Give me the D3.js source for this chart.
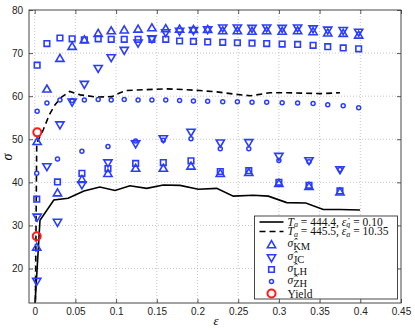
<!DOCTYPE html>
<html>
<head>
<meta charset="utf-8">
<script src="https://cdn.jsdelivr.net/npm/d3@7"></script>
<style>
  body { margin: 0; background: #fff; overflow: hidden; }
  svg { display: block; }
  .tick text { font-family: "Liberation Sans", Arial, sans-serif; font-size: 10px; fill: #222; }
  .legend text { font-family: "Liberation Serif", "DejaVu Serif", serif; font-size: 11.5px; fill: #111; }
</style>
</head>
<body>
<div id="chart"></div>
<script>
// strain columns of the two marker groups
const upperStrain = [0.003, 0.015, 0.031, 0.046, 0.061, 0.078, 0.094, 0.110, 0.127, 0.144, 0.161, 0.178,
  0.195, 0.2125, 0.231, 0.249, 0.267, 0.285, 0.304, 0.323, 0.342, 0.360, 0.379, 0.398];
const upperKM = [49.4, 61.6, 68.7, 71.5, 73.0, 74.5, 75.1, 75.3, 75.5, 75.8, 75.6, 75.5,
  75.4, 75.4, 75.1, 75.1, 75.0, 75.1, 75.0, 75.1, 74.9, 74.6, 74.5, 74.1];
const upperJC = [32.0, 43.7, 53.4, 58.7, 62.8, 66.5, 69.0, 70.7, 72.4, 73.4, 74.8, 75.1,
  75.3, 75.5, 75.9, 75.9, 75.8, 75.9, 75.8, 75.9, 75.7, 75.4, 75.3, 74.9];
const upperLH = [67.2, 72.2, 73.5, 73.3, 73.1, 73.3, 73.2, 73.2, 73.2, 73.2, 73.2, 72.8,
  72.7, 72.6, 72.5, 72.4, 72.3, 72.2, 72.1, 72.0, 71.8, 71.5, 71.2, 71.0];
const upperZH = [56.5, 58.4, 59.1, 59.0, 59.1, 59.2, 59.1, 59.2, 59.1, 59.1, 59.1, 59.0,
  58.9, 58.8, 58.7, 58.7, 58.6, 58.6, 58.5, 58.4, 58.3, 58.0, 57.8, 57.3];

const lowerStrain = [0.0025, 0.028, 0.058, 0.090, 0.124, 0.158, 0.192, 0.228, 0.263, 0.300, 0.337, 0.375];
const lowerKM = [24.9, 37.5, 40.6, 42.0, 43.2, 43.2, 43.7, 42.0, 42.2, 39.7, 39.0, 37.7];
const lowerJC = [17.1, 30.8, 39.5, 44.6, 49.0, 50.2, 51.7, 49.2, 49.3, 46.1, 45.1, 43.0];
const lowerLH = [36.1, 40.1, 42.1, 43.2, 44.4, 44.6, 45.0, 42.5, 42.7, 40.0, 39.3, 38.0];
const lowerZH = [42.1, 45.4, 47.2, 48.3, 49.6, 49.8, 50.1, 47.8, 47.8, 45.1, 44.8, 43.0];

const yieldStrain = [0.0032, 0.0025];
const yieldStress = [51.6, 27.5];

// T_a = 444.4, rate 0.10
const solidStrain = [0, 0.0065, 0.0235, 0.041, 0.0605, 0.080, 0.0987, 0.117, 0.1376, 0.158, 0.1785,
  0.201, 0.2236, 0.244, 0.2686, 0.287, 0.3096, 0.333, 0.3545, 0.375, 0.3996];
const solidStress = [10.5, 31.2, 35.9, 36.3, 38.0, 38.9, 38.1, 39.2, 38.6, 39.4, 39.3,
  38.4, 38.6, 36.8, 37.0, 36.8, 35.3, 35.2, 33.7, 33.7, 33.6];

// T_a = 445.5, rate 10.35
const dashedStrain = [0.0008, 0.0025, 0.0105, 0.018, 0.025, 0.033, 0.043, 0.056, 0.076, 0.095, 0.105,
  0.113, 0.134, 0.162, 0.187, 0.203, 0.224, 0.244, 0.265, 0.289, 0.310, 0.330, 0.352, 0.375];
const dashedStress = [10, 49.1, 52.2, 55.7, 58.0, 59.8, 61.1, 60.3, 59.8, 59.9, 60.8,
  61.3, 61.5, 61.7, 61.5, 61.3, 61.0, 60.5, 60.1, 60.8, 60.8, 60.7, 60.6, 60.8];

const xTicks = [0, 0.05, 0.1, 0.15, 0.2, 0.25, 0.3, 0.35, 0.4, 0.45];
const yTicks = [20, 30, 40, 50, 60, 70, 80];

const width = 415;
const height = 330;
const margin = { top: 10, right: 14, bottom: 27, left: 29 };
const innerWidth = width - margin.left - margin.right;
const innerHeight = height - margin.top - margin.bottom;

const blue = '#2a3cff';

const xScale = d3.scaleLinear().domain([-0.007, 0.45]).range([0, innerWidth]);
const yScale = d3.scaleLinear().domain([12, 80]).range([innerHeight, 0]);

const svg = d3.select('#chart').append('svg')
  .attr('width', width)
  .attr('height', height);

svg.append('defs').append('clipPath').attr('id', 'clip')
  .append('rect').attr('width', innerWidth).attr('height', innerHeight);

const inner = svg.append('g')
  .attr('transform', `translate(${margin.left}, ${margin.top})`);

// grid
inner.append('g').selectAll('line').data(xTicks.slice(0, -1)).enter().append('line')
  .attr('x1', d => xScale(d)).attr('x2', d => xScale(d))
  .attr('y1', 0).attr('y2', innerHeight)
  .attr('stroke', '#b8b8b8').attr('stroke-width', 0.8).attr('stroke-dasharray', '1,2');
inner.append('g').selectAll('line').data(yTicks.slice(0, -1)).enter().append('line')
  .attr('y1', d => yScale(d)).attr('y2', d => yScale(d))
  .attr('x1', 0).attr('x2', innerWidth)
  .attr('stroke', '#b8b8b8').attr('stroke-width', 0.8).attr('stroke-dasharray', '1,2');

const plot = inner.append('g').attr('clip-path', 'url(#clip)');

const line = d3.line().x(d => xScale(d[0])).y(d => yScale(d[1]));

plot.append('path')
  .datum(d3.zip(solidStrain, solidStress))
  .attr('d', line)
  .attr('fill', 'none').attr('stroke', '#000').attr('stroke-width', 1.6);

plot.append('path')
  .datum(d3.zip(dashedStrain, dashedStress))
  .attr('d', line)
  .attr('fill', 'none').attr('stroke', '#000').attr('stroke-width', 1.6)
  .attr('stroke-dasharray', '6,4');

// marker shapes
const markerPath = {
  up: 'M0,-4.3L4.1,2.7L-4.1,2.7Z',
  down: 'M0,4.3L4.1,-2.7L-4.1,-2.7Z',
  square: 'M-2.8,-2.8H2.8V2.8H-2.8Z',
};

const drawMarks = (xs, ys, kind) => {
  const pts = d3.zip(xs, ys);
  const g = plot.append('g');
  if (kind === 'circle') {
    g.selectAll('circle').data(pts).enter().append('circle')
      .attr('cx', d => xScale(d[0])).attr('cy', d => yScale(d[1])).attr('r', 2)
      .attr('fill', 'none').attr('stroke', blue).attr('stroke-width', 1.5);
  } else {
    g.selectAll('path').data(pts).enter().append('path')
      .attr('transform', d => `translate(${xScale(d[0])}, ${yScale(d[1])})`)
      .attr('d', markerPath[kind])
      .attr('fill', 'none').attr('stroke', blue).attr('stroke-width', 1.6);
  }
};

drawMarks(upperStrain, upperKM, 'up');
drawMarks(lowerStrain, lowerKM, 'up');
drawMarks(upperStrain, upperJC, 'down');
drawMarks(lowerStrain, lowerJC, 'down');
drawMarks(upperStrain, upperLH, 'square');
drawMarks(lowerStrain, lowerLH, 'square');
drawMarks(upperStrain, upperZH, 'circle');
drawMarks(lowerStrain, lowerZH, 'circle');

plot.append('g').selectAll('circle').data(d3.zip(yieldStrain, yieldStress)).enter().append('circle')
  .attr('cx', d => xScale(d[0])).attr('cy', d => yScale(d[1])).attr('r', 4)
  .attr('fill', 'none').attr('stroke', '#ff1a1a').attr('stroke-width', 2);

// axes, ticks inward on all sides
const xAxis = d3.axisBottom(xScale).tickValues(xTicks).tickSize(-4).tickPadding(5).tickFormat(d3.format('~g'));
const yAxis = d3.axisLeft(yScale).tickValues(yTicks).tickSize(-4).tickPadding(6);

inner.append('g').attr('transform', `translate(0, ${innerHeight})`).call(xAxis);
inner.append('g').call(yAxis);
inner.append('g').call(d3.axisTop(xScale).tickValues(xTicks).tickSize(-4).tickFormat(''));
inner.append('g').attr('transform', `translate(${innerWidth}, 0)`)
  .call(d3.axisRight(yScale).tickValues(yTicks).tickSize(-4).tickFormat(''));

inner.selectAll('.domain').remove();
inner.selectAll('.tick line').attr('stroke', '#333').attr('stroke-width', 0.8);

inner.append('rect')
  .attr('width', innerWidth).attr('height', innerHeight)
  .attr('fill', 'none').attr('stroke', '#333').attr('stroke-width', 0.9);

// axis labels
svg.append('text')
  .attr('transform', 'translate(12, 157) rotate(-90)')
  .attr('text-anchor', 'middle')
  .attr('font-family', 'Liberation Serif, serif').attr('font-style', 'italic').attr('font-size', 14)
  .text('σ');
svg.append('text')
  .attr('x', 216).attr('y', 325)
  .attr('text-anchor', 'middle')
  .attr('font-family', 'Liberation Serif, serif').attr('font-style', 'italic').attr('font-size', 13)
  .text('ε');

// legend
const legend = svg.append('g').attr('class', 'legend').attr('transform', 'translate(254.5, 216)');
legend.append('rect')
  .attr('width', 143).attr('height', 83)
  .attr('fill', '#fff').attr('stroke', '#333').attr('stroke-width', 0.9);

const rowY = [6, 15.5, 29, 41.5, 53.5, 65.5, 77.5];

const lineRow = (y, dashed, base, rate) => {
  legend.append('line')
    .attr('x1', 5).attr('x2', 29).attr('y1', y).attr('y2', y)
    .attr('stroke', '#000').attr('stroke-width', 1.6)
    .attr('stroke-dasharray', dashed ? '6,4' : null);
  const t = legend.append('text').attr('x', 33).attr('y', y + 3.5);
  t.append('tspan').attr('font-style', 'italic').text('T');
  t.append('tspan').attr('font-style', 'italic').attr('font-size', 8).attr('dy', 1.5).text('a');
  t.append('tspan').attr('dy', -1.5).text(` = ${base}, `);
  t.append('tspan').attr('font-style', 'italic').text('ε̇');
  t.append('tspan').attr('font-style', 'italic').attr('font-size', 8).attr('dy', 1.5).text('a');
  t.append('tspan').attr('dy', -1.5).text(` = ${rate}`);
};
lineRow(rowY[0], false, '444.4', '0.10');
lineRow(rowY[1], true, '445.5', '10.35');

const markRows = [['up', 'KM'], ['down', 'JC'], ['square', 'LH'], ['circle', 'ZH']];
markRows.forEach(([kind, sub], i) => {
  const y = rowY[i + 2];
  if (kind === 'circle') {
    legend.append('circle').attr('cx', 17).attr('cy', y).attr('r', 2)
      .attr('fill', 'none').attr('stroke', blue).attr('stroke-width', 1.5);
  } else {
    legend.append('path').attr('transform', `translate(17, ${y})`).attr('d', markerPath[kind])
      .attr('fill', 'none').attr('stroke', blue).attr('stroke-width', 1.6);
  }
  const t = legend.append('text').attr('x', 33).attr('y', y + 2);
  t.append('tspan').attr('font-style', 'italic').text('σ̂');
  t.append('tspan').attr('dy', 3).attr('font-size', 10.5).text(sub);
});

legend.append('circle').attr('cx', 17).attr('cy', rowY[6]).attr('r', 4)
  .attr('fill', 'none').attr('stroke', '#ff1a1a').attr('stroke-width', 2);
legend.append('text').attr('x', 33).attr('y', rowY[6] + 4).text('Yield');
</script>
</body>
</html>
